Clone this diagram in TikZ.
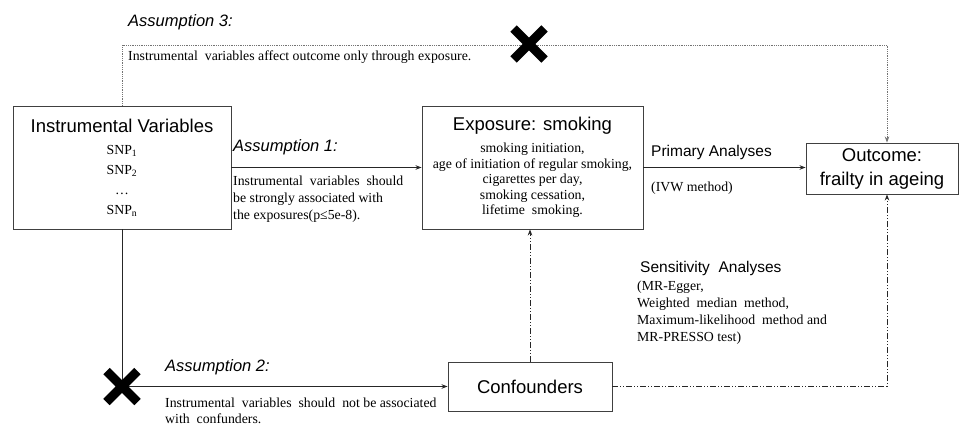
\documentclass[tikz,border=0pt]{standalone}
\usepackage{fontspec}
\setmainfont{Liberation Serif}
\setsansfont{Liberation Sans}
\usetikzlibrary{arrows.meta,calc,shapes.misc}
\newcommand{\hdfont}{\sffamily\fontsize{18.5}{24}\selectfont}
\newcommand{\anfont}{\sffamily\fontsize{15.5}{18}\selectfont}
\newcommand{\asmfont}{\sffamily\itshape\fontsize{16.5}{19}\selectfont}
\newcommand{\txtfont}[1]{\rmfamily\fontsize{13.8}{#1}\selectfont}% body text, #1 = line step
\tikzset{
  box/.style={draw=black!75, line width=0.9pt, inner sep=0pt, align=center},
  lbl/.style={inner sep=0pt, anchor=west, align=left},
  conn/.style={line width=0.8pt, draw=black!85, -{Stealth[length=6pt,width=4.5pt]}},
  dotconn/.style={conn, draw=black!55, densely dotted},
  dashdotconn/.style={conn, dash pattern=on 6pt off 2pt on 1pt off 2pt on 1pt off 2pt},
  nomark/.style={cross out, draw=black, line width=9pt, minimum size=22pt, inner sep=0pt}
}

\begin{document}
\begin{tikzpicture}[x=1pt,y=-1pt]
  \useasboundingbox (0,0) rectangle (959,425);
  % boxes
  \node[box, minimum width=218pt, minimum height=123pt, font=\txtfont{20}] (iv) at (122,167.5)
    {{\hdfont Instrumental Variables}\\[2pt]SNP\textsubscript{1}\\SNP\textsubscript{2}\\\dots\\SNP\textsubscript{n}};
  \node[box, minimum width=221pt, minimum height=123pt, font=\txtfont{15.5}] (expo) at (532.5,167.5)
    {{\hdfont Exposure: smoking}\\[7pt]smoking initiation,\\age of initiation of regular smoking,\\cigarettes per day,\\smoking cessation,\\lifetime\ \ smoking.};
  \node[box, minimum width=152pt, minimum height=51pt, font=\hdfont] (outc) at (882,168.5)
    {Outcome:\\frailty in ageing};
  \node[box, minimum width=164pt, minimum height=49pt, font=\hdfont] (conf) at (530,386.5)
    {Confounders};
  % texts
  \node[lbl, font=\asmfont] (as3) at (128,22) {Assumption 3:};
  \node[lbl, font=\txtfont{17}] (as3txt) at (128,57) {Instrumental\ \ variables affect outcome only through exposure.};
  \node[lbl, font=\asmfont] (as1) at (233,147) {Assumption 1:};
  \node[lbl, font=\txtfont{17}] (as1txt) at (233,199.5)
    {Instrumental\ \ variables\ \ should\\be strongly associated with\\the exposures(p≤5e-8).};
  \node[lbl, font=\asmfont] (as2) at (165,367) {Assumption 2:};
  \node[lbl, font=\txtfont{16}] (as2txt) at (165,410.5)
    {Instrumental\ \ variables\ \ should\ \ not be associated\\with\ \ confunders.};
  \node[lbl, font=\anfont] (prim) at (651,152) {Primary Analyses};
  \node[lbl, font=\txtfont{17}] (ivw) at (651,188) {(IVW method)};
  \node[lbl, font=\anfont] (sens) at (640,268) {Sensitivity\ \ Analyses};
  \node[lbl, font=\txtfont{17}] (senstxt) at (637,312.5)
    {(MR-Egger,\\Weighted\ \ median\ \ method,\\Maximum-likelihood\ \ method and\\MR-PRESSO test)};
  % connectors
  \coordinate (topr) at (887,45);
  \draw[dotconn] (iv.north) |- (topr) -- (topr |- outc.north);
  \draw[conn] (iv.east) -- (expo.west);
  \draw[conn] (expo.east) -- (expo.east -| outc.west);
  \draw[conn] (iv.south) |- (conf.west);
  \draw[dashdotconn] (conf.north) -- (conf.north |- expo.south);
  \draw[dashdotconn] (conf.east) -| ($(outc.south)+(5,0)$);
  % broken assumptions
  \coordinate (ivcorner) at (iv.south |- conf.west);
  \node[nomark] (x3) at (529,44) {};
  \node[nomark] (x2) at (ivcorner) {};
\end{tikzpicture}
\end{document}
